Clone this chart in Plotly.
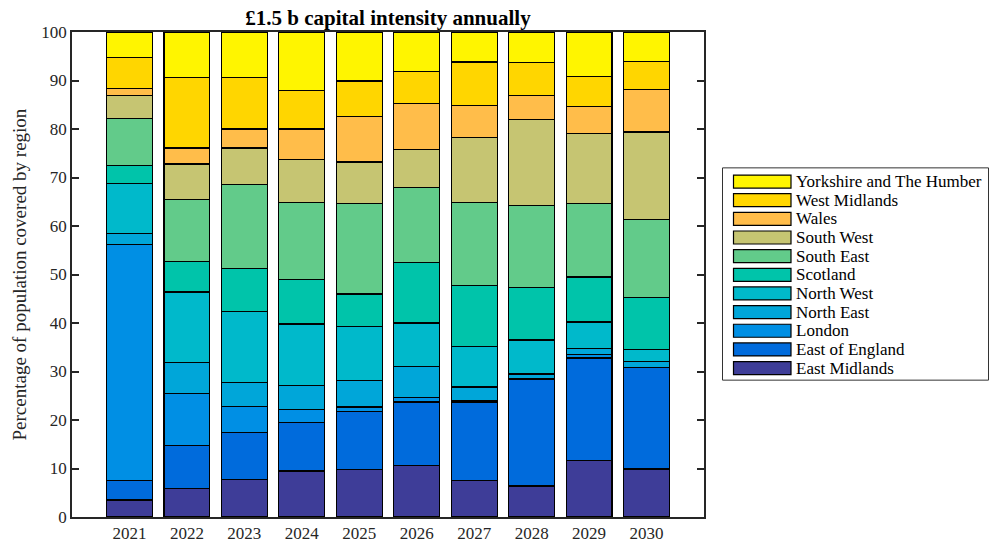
import plotly.graph_objects as go

years = ["2021", "2022", "2023", "2024", "2025", "2026", "2027", "2028", "2029", "2030"]
regions = ["East Midlands", "East of England", "London", "North East", "North West",
           "Scotland", "South East", "South West", "Wales", "West Midlands",
           "Yorkshire and The Humber"]

east_midlands   = [3.5, 5.9, 7.7, 9.5, 9.8, 10.6, 7.5, 6.4, 11.7, 9.9]
east_of_england = [4.0, 8.8, 9.7, 10.0, 12.0, 13.1, 16.2, 22.0, 21.1, 20.9]
london          = [48.7, 10.8, 5.4, 2.7, 0.9, 0.9, 0.4, 0.2, 0.7, 0.1]
north_east      = [2.2, 6.3, 4.9, 4.9, 5.4, 6.4, 2.7, 0.9, 1.2, 1.2]
north_west      = [10.3, 14.6, 14.6, 12.7, 11.2, 9.0, 8.4, 7.0, 5.5, 2.4]
scotland        = [3.8, 6.2, 8.9, 9.2, 6.7, 12.5, 12.6, 10.9, 9.3, 10.7]
south_east      = [9.6, 12.9, 17.4, 15.8, 18.6, 15.5, 17.0, 16.8, 15.1, 16.2]
south_west      = [4.8, 7.3, 7.5, 8.9, 8.6, 7.8, 13.5, 17.8, 14.5, 18.0]
wales           = [1.4, 3.3, 3.9, 6.3, 9.4, 9.4, 6.5, 4.9, 5.5, 8.8]
west_midlands   = [6.4, 14.6, 10.7, 7.9, 7.3, 6.6, 9.0, 6.8, 6.3, 5.7]
yorkshire       = [5.3, 9.3, 9.3, 12.1, 10.1, 8.2, 6.2, 6.3, 9.1, 6.1]

series = [east_midlands, east_of_england, london, north_east, north_west, scotland,
          south_east, south_west, wales, west_midlands, yorkshire]
colors = ["#3E3D98", "#006BDC", "#008FE4", "#00A6D9", "#00B9CB", "#00C4AA",
          "#62CB8A", "#C6C572", "#FFBD4A", "#FFD600", "#FFF500"]

x_idx = list(range(len(years)))

W, H = 990, 543
# plot-area edges in page pixels
P_LEFT, P_RIGHT, P_TOP, P_BOTTOM = 72, 704, 32, 517.5
ML, MT = P_LEFT, P_TOP
MR, MB = W - P_RIGHT, H - P_BOTTOM
PW, PH = P_RIGHT - P_LEFT, P_BOTTOM - P_TOP
FONT = "Liberation Serif"
AX = "#262626"


def px_x(px):
    return (px - P_LEFT) / PW


def px_y(py):
    return (P_BOTTOM - py) / PH


fig = go.Figure()
for name, vals, col in zip(regions, series, colors):
    fig.add_trace(go.Bar(
        x=x_idx, y=vals, name=name, showlegend=False,
        marker=dict(color=col, line=dict(color="black", width=1.2)),
        width=0.8,
    ))

# custom legend (MATLAB style: wide swatches, boxed)
shapes = [dict(type="rect", xref="paper", yref="paper",
               x0=px_x(722.5), x1=px_x(988.5), y0=px_y(380.5), y1=px_y(168),
               line=dict(color="#333333", width=1), fillcolor="white", layer="below")]
annotations = []
step = 18.67
top_center = 181.7
for i, (name, col) in enumerate(zip(regions[::-1], colors[::-1])):
    cy = top_center + i * step
    shapes.append(dict(type="rect", xref="paper", yref="paper",
                       x0=px_x(733.5), x1=px_x(791), y0=px_y(cy + 6.5), y1=px_y(cy - 6.5),
                       line=dict(color="black", width=1.2), fillcolor=col))
    annotations.append(dict(xref="paper", yref="paper", x=px_x(794), y=px_y(cy),
                            xanchor="left", yanchor="middle", showarrow=False, text=name,
                            font=dict(family=FONT, size=17, color="black")))

annotations.append(dict(xref="paper", yref="paper", x=px_x(19), y=0.5,
                        xanchor="center", yanchor="middle", showarrow=False, textangle=-90,
                        text="Percentage of population covered by region",
                        font=dict(family=FONT, size=19, color=AX)))

fig.update_layout(
    barmode="stack",
    width=W, height=H,
    margin=dict(l=ML, r=MR, t=MT, b=MB, autoexpand=False),
    paper_bgcolor="white", plot_bgcolor="white",
    font=dict(family=FONT, size=17, color=AX),
    title=dict(text="<b>£1.5 b capital intensity annually</b>",
               x=(P_LEFT + P_RIGHT) / 2 / W, xanchor="center",
               y=1 - 18 / H, yanchor="middle",
               font=dict(family=FONT, size=21, color="black")),
    shapes=shapes,
    annotations=annotations,
    showlegend=False,
)
fig.update_xaxes(
    range=[-1, 10], tickvals=x_idx, ticktext=years, automargin=False,
    showline=True, linecolor=AX, linewidth=1.5, mirror=True,
    ticks="", showgrid=False, zeroline=False,
    tickfont=dict(size=17, family=FONT, color=AX),
)
fig.update_yaxes(
    range=[0, 100], tickvals=list(range(0, 101, 10)), automargin=False,
    showline=True, linecolor=AX, linewidth=1.5, mirror="ticks",
    ticks="inside", ticklen=7, tickcolor=AX, tickwidth=1.5,
    showgrid=False, zeroline=False,
    tickfont=dict(size=17, family=FONT, color=AX),
)

# remove the browser's default 8px body margin so the figure fills the window exactly
fig.write_html("out.html",
               config={"displayModeBar": False},
               post_script="document.body.style.margin='0';document.body.style.overflow='hidden';")
